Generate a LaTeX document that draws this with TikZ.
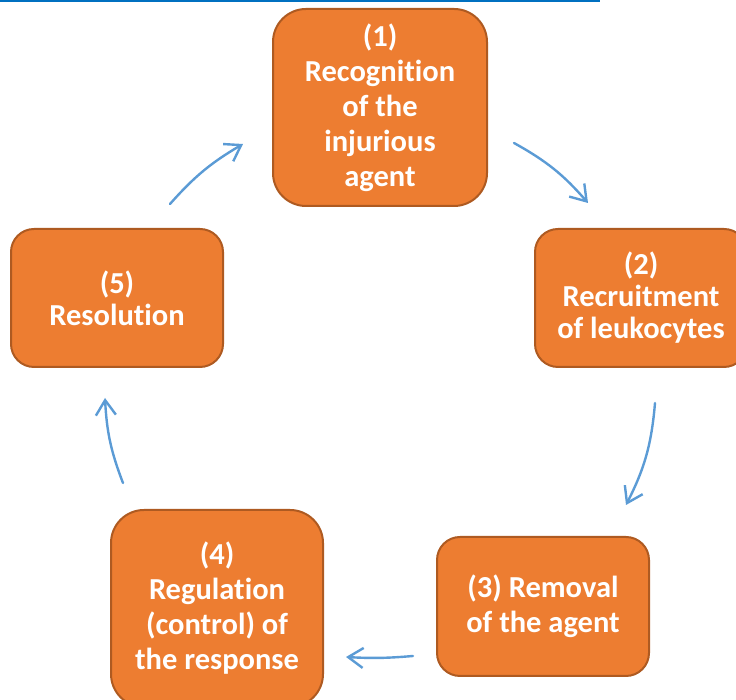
\documentclass[tikz,border=0pt]{standalone}
\usepackage{fontspec}
\setmainfont{Carlito}[Ligatures=NoCommon]
\usetikzlibrary{arrows.meta,positioning}
\definecolor{stageorange}{HTML}{ED7D31}
\definecolor{stageedge}{HTML}{AE5A21}
\definecolor{cycleblue}{HTML}{5B9BD5}
\definecolor{rulerblue}{HTML}{0070C0}
\tikzset{%
  stage/.style={draw=stageedge,fill=stageorange,line width=2pt,text=white,align=center,minimum width=212pt,inner sep=0pt},
  tallbox/.style={stage,minimum height=197pt,rounded corners=33pt,font=\bfseries\fontsize{30.5}{35}\selectfont},
  flatbox/.style={stage,minimum height=138pt,rounded corners=23pt,font=\bfseries\fontsize{30.5}{32}\selectfont},
  cyclearrow/.style={-{Straight Barb[length=15pt,width=20pt]},line width=2.4pt,draw=cycleblue,line cap=round,line join=round}%
}

\begin{document}
\begin{tikzpicture}[x=1pt,y=1pt]
\useasboundingbox (0,0) rectangle (736,700);

% thin rule along the top edge
\draw[rulerblue,line width=2pt] (0,699) -- (600,699);

% the five stages, clockwise from the top
\node[tallbox,minimum width=214pt] (rec) at (380,592.5) {(1)\\Recognition\\of the\\injurious\\agent};
\node[flatbox] (recruit) at (641,402) {(2)\\Recruitment\\of leukocytes};
\node[tallbox] (regul) at (217,91.5) {(4)\\Regulation\\(control) of\\the response};
\node[flatbox,minimum height=139pt,font=\bfseries\fontsize{30.5}{35}\selectfont,right=112pt of regul,yshift=2pt] (removal) {(3) Removal\\of the agent};
\node[flatbox] (resol) at (117,402) {(5)\\Resolution};

% loose ends of the curved arrows
\coordinate (p1out) at (514,557);
\coordinate (p2in)  at (588,497);
\coordinate (p2out) at (655,297);
\coordinate (p3in)  at (626,195);
\coordinate (p3out) at (413,44);
\coordinate (p4in)  at (346,43);
\coordinate (p4out) at (123,217);
\coordinate (p5in)  at (105,302);
\coordinate (p5out) at (170,496);
\coordinate (p1in)  at (243,556);

% cycle
\draw[cyclearrow] (p1out) to[bend left=10] (p2in);
\draw[cyclearrow] (p2out) to[bend left=11] (p3in);
\draw[cyclearrow] (p3out) to[bend left=4] (p4in);
\draw[cyclearrow] (p4out) to[bend left=9] (p5in);
\draw[cyclearrow] (p5out) to[bend left=9] (p1in);

\end{tikzpicture}
\end{document}
